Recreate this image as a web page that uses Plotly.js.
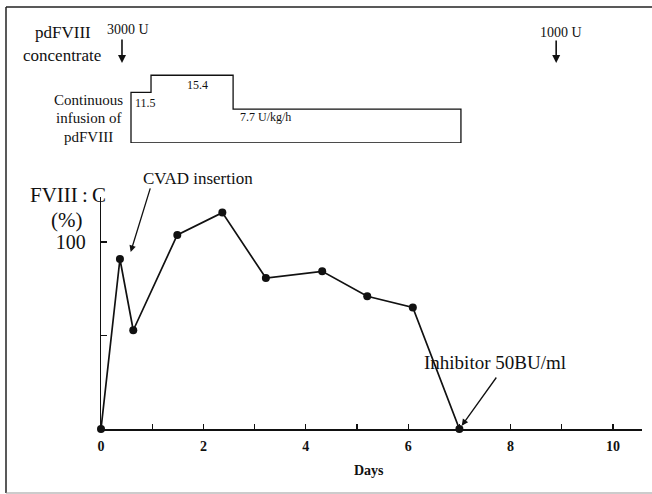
<!DOCTYPE html>
<html>
<head>
<meta charset="utf-8">
<script src="https://cdn.plot.ly/plotly-3.0.1.min.js"></script>
<style>html,body{margin:0;padding:0;background:#fff;}#chart{width:652px;height:494px;}</style>
</head>
<body>
<div id="chart"></div>
<script>
// ---- data ----
const days  = [0, 0.37, 0.63, 1.49, 2.37, 3.22, 4.32, 5.20, 6.09, 7.00];
const fviii = [0, 90.9, 52.8, 103.8, 115.7, 80.7, 84.3, 71.0, 65.0, 0];

// continuous infusion of pdFVIII (U/kg/h), drawn as a closed step outline
const infDays = [0.586, 0.586, 0.977, 2.58, 7.03, 0.586];
const infRate = [0, 11.5, 15.4, 7.7, 0, 0];
const infLabels = ['11.5', '15.4', '7.7 U/kg/h'];

// bolus doses
const bolusDays   = [0.41, 8.89];
const bolusLabels = ['3000 U', '1000 U'];

const cvadDay = 0.58, cvadLevel = 94.7;

const xTickVals = [0,1,2,3,4,5,6,7,8,9,10];
const xTickText = ['0','','2','','4','','6','','8','','10'];
const yTickVals = [50, 100];
const yTickText = ['', '100'];

// ---- layout helpers (pixel -> paper) ----
const L = 101, R = 10, T = 20, B = 65;
const W = 652, H = 494;
const PW = W - L - R, PH = H - T - B;
const px = x => (x - L) / PW;
const py = y => (H - B - y) / PH;

const serif = 'Liberation Serif, Times New Roman, serif';

const traces = [
  {
    x: days, y: fviii, type: 'scatter', mode: 'lines+markers',
    line: {color: '#111', width: 1.7},
    marker: {color: '#111', size: 8},
    cliponaxis: false,
    xaxis: 'x', yaxis: 'y', hoverinfo: 'x+y'
  },
  {
    x: infDays, y: infRate, type: 'scatter', mode: 'lines',
    line: {color: '#111', width: 1.3, shape: 'hv'},
    cliponaxis: false,
    xaxis: 'x', yaxis: 'y2', hoverinfo: 'skip'
  }
];

function txt(text, x, y, size, opts) {
  return Object.assign({
    text: text, xref: 'paper', yref: 'paper', x: px(x), y: py(y),
    xanchor: 'center', yanchor: 'middle', showarrow: false,
    font: {family: serif, size: size, color: '#111'}
  }, opts || {});
}

const annotations = [
  txt('pdFVIII', 62.5, 33, 17),
  txt('concentrate', 62, 55, 17),
  txt('Continuous', 88, 100, 15),
  txt('infusion of', 88, 118, 15),
  txt('pdFVIII', 88, 137, 15),
  txt('FVIII\u2009:\u2009C', 68, 195, 21),
  txt('(%)', 66.5, 220, 21),
  txt('CVAD insertion', 197.5, 178, 17),
  txt('Inhibitor 50BU/ml', 421.7, 362, 19, {xanchor: 'left'}),
  txt('<b>Days</b>', 369, 470, 14),
  // infusion rate labels
  {text: infLabels[0], xref: 'x', yref: 'y2', x: infDays[1] + 0.04, y: infRate[1] - 2.3,
   xanchor: 'left', yanchor: 'middle', showarrow: false, font: {family: serif, size: 12, color: '#111'}},
  {text: infLabels[1], xref: 'x', yref: 'y2', x: 1.88, y: infRate[2] - 2.2,
   xanchor: 'center', yanchor: 'middle', showarrow: false, font: {family: serif, size: 12, color: '#111'}},
  {text: infLabels[2], xref: 'x', yref: 'y2', x: infDays[3] + 0.1, y: infRate[3] - 1.8,
   xanchor: 'left', yanchor: 'middle', showarrow: false, font: {family: serif, size: 12, color: '#111'}},
  // bolus labels and arrows
  txt(bolusLabels[0], 128, 29, 14),
  txt(bolusLabels[1], 561, 32, 14),
  {text: '', xref: 'x', yref: 'paper', x: bolusDays[0], y: py(63), ax: 0, ay: -25,
   showarrow: true, arrowhead: 2, arrowsize: 1, arrowwidth: 1.6, arrowcolor: '#111'},
  {text: '', xref: 'x', yref: 'paper', x: bolusDays[1], y: py(63), ax: 0, ay: -24,
   showarrow: true, arrowhead: 2, arrowsize: 1, arrowwidth: 1.6, arrowcolor: '#111'},
  // event arrows
  {text: '', xref: 'x', yref: 'y', x: cvadDay, y: cvadLevel, ax: 20, ay: -65,
   showarrow: true, arrowhead: 2, arrowsize: 1, arrowwidth: 1.3, arrowcolor: '#111'},
  {text: '', xref: 'x', yref: 'y', x: days[9], y: fviii[9], ax: 38, ay: -53, standoff: 4,
   showarrow: true, arrowhead: 2, arrowsize: 1, arrowwidth: 1.3, arrowcolor: '#111'}
];

const shapes = [
  {type: 'line', xref: 'paper', yref: 'paper', x0: px(6), x1: px(6), y0: py(7), y1: py(493),
   line: {color: '#222', width: 1.5}},
  {type: 'line', xref: 'paper', yref: 'paper', x0: px(6), x1: px(652), y0: py(7), y1: py(7),
   line: {color: '#222', width: 1.5}},
  {type: 'line', xref: 'paper', yref: 'paper', x0: px(6), x1: px(652), y0: py(493), y1: py(493),
   line: {color: '#999', width: 1}}
];

const layout = {
  width: W, height: H,
  margin: {l: L, r: R, t: T, b: B, pad: 0},
  paper_bgcolor: '#fff', plot_bgcolor: '#fff',
  showlegend: false,
  font: {family: serif, color: '#111'},
  xaxis: {
    range: [0, (642 - L) / 51.2], showgrid: false, zeroline: false,
    showline: true, linecolor: '#111', linewidth: 1.6,
    ticks: 'inside', ticklen: 5, tickwidth: 1.2, tickcolor: '#111',
    tickvals: xTickVals, ticktext: xTickText,
    tickfont: {family: serif, size: 14, weight: 'bold', color: '#111'},
    ticklabelstandoff: 4,
    anchor: 'y', fixedrange: true
  },
  yaxis: {
    domain: [0, 0.567], range: [0, 124], showgrid: false, zeroline: false,
    showline: true, linecolor: '#111', linewidth: 1.3,
    ticks: 'inside', ticklen: 6, tickwidth: 1.2, tickcolor: '#111',
    tickvals: yTickVals, ticktext: yTickText,
    tickfont: {family: serif, size: 20, color: '#111'},
    ticklabelstandoff: 10,
    anchor: 'x', fixedrange: true
  },
  yaxis2: {
    domain: [(H - B - 143) / PH, 1], range: [0, 27.95], visible: false,
    anchor: 'x', fixedrange: true
  },
  annotations: annotations,
  shapes: shapes
};

Plotly.newPlot('chart', traces, layout, {displayModeBar: false, staticPlot: true});
</script>
</body>
</html>
